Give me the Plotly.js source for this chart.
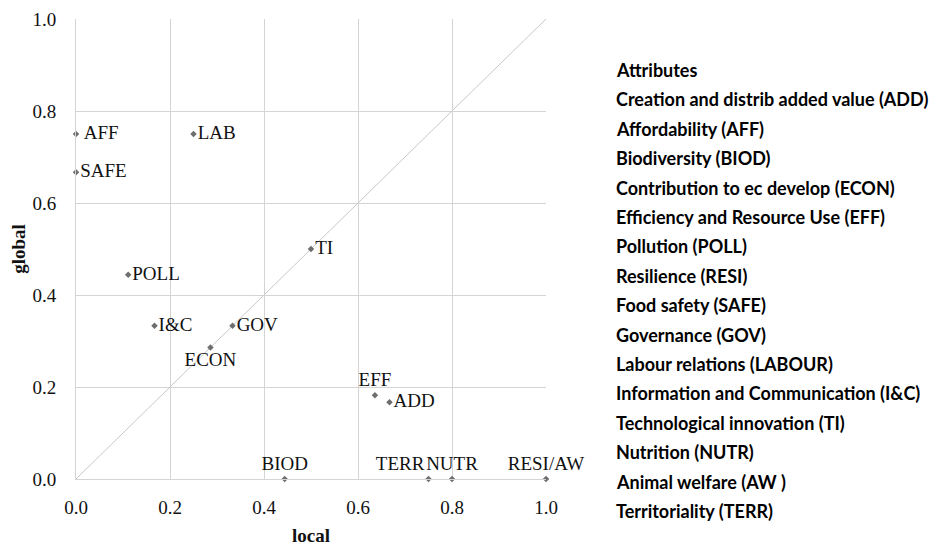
<!DOCTYPE html>
<html>
<head>
<meta charset="utf-8">
<script src="https://cdn.plot.ly/plotly-3.0.1.min.js"></script>
<style>html,body{margin:0;padding:0;background:#fff;}#chart{width:938px;height:546px;}</style>
</head>
<body>
<div id="chart"></div>
<script>
const labels = ["AFF", "SAFE", "LAB", "POLL", "I&C", "GOV", "ECON", "TI", "EFF", "ADD", "BIOD", "TERR", "NUTR", "RESI/AW"];
const localVals = [0.0, 0.0, 0.25, 0.111, 0.167, 0.333, 0.286, 0.5, 0.636, 0.667, 0.444, 0.75, 0.8, 1.0];
const globalVals = [0.75, 0.667, 0.75, 0.444, 0.333, 0.333, 0.286, 0.5, 0.182, 0.167, 0.0, 0.0, 0.0, 0.0];
const labelPos = ["middle right", "middle right", "middle right", "middle right", "middle right", "middle right", "bottom center", "middle right", "top center", "middle right", "top center", "top left", "top center", "top center"];
const tickVals = [0, 0.2, 0.4, 0.6, 0.8, 1.0];
const tickText = ["0.0", "0.2", "0.4", "0.6", "0.8", "1.0"];
const legendTitle = "Attributes";
const legendItems = [
  "Creation and distrib added value (ADD)",
  "Affordability (AFF)",
  "Biodiversity (BIOD)",
  "Contribution to ec develop (ECON)",
  "Efficiency and Resource Use (EFF)",
  "Pollution (POLL)",
  "Resilience (RESI)",
  "Food safety (SAFE)",
  "Governance (GOV)",
  "Labour relations (LABOUR)",
  "Information and Communication (I&C)",
  "Technological innovation (TI)",
  "Nutrition (NUTR)",
  "Animal welfare (AW )",
  "Territoriality (TERR)"
];

const serif = "Liberation Serif, Times New Roman, serif";
const sans = "Lato, Liberation Sans, sans-serif";

const traces = [
  {
    x: [0, 1], y: [0, 1], mode: "lines", type: "scatter",
    line: {color: "#c8c8c8", width: 1}, hoverinfo: "skip", showlegend: false
  },
  {
    x: localVals, y: globalVals, text: labels.map(l => l === "AFF" ? " " + l : l),
    mode: "markers+text", type: "scatter",
    textposition: labelPos, cliponaxis: false,
    textfont: {family: serif, size: 19, color: "#111"},
    marker: {symbol: "diamond", size: 5, color: "#6e6e6e"},
    showlegend: false
  }
];

const plotL = 76, plotR = 546, plotT = 19, plotB = 479;
const pw = plotR - plotL, ph = plotB - plotT;
const legX = (614 - plotL) / pw;
const legY0 = 70, legStep = 29.4;
const allLeg = [legendTitle].concat(legendItems);
const annotations = allLeg.map((t, i) => ({
  text: t, xref: "paper", yref: "paper",
  x: legX, y: (plotB - (legY0 + i * legStep)) / ph,
  xanchor: "left", yanchor: "middle", showarrow: false,
  font: {family: sans, size: 18, color: "#000", weight: "bold"}
}));

const layout = {
  width: 938, height: 546,
  margin: {l: plotL, r: 938 - plotR, t: plotT, b: 546 - plotB},
  paper_bgcolor: "#fff", plot_bgcolor: "#fff",
  showlegend: false,
  xaxis: {
    range: [0, 1], tickvals: tickVals, ticktext: tickText,
    showgrid: true, gridcolor: "#d4d4d4", gridwidth: 1,
    zeroline: false, showline: true, linecolor: "#d4d4d4", linewidth: 1,
    ticks: "", ticklabelstandoff: 11,
    tickfont: {family: serif, size: 19, color: "#111"},
    title: {text: "<b>local</b>", font: {family: serif, size: 19, color: "#111"}, standoff: 14}
  },
  yaxis: {
    range: [0, 1], tickvals: tickVals, ticktext: tickText,
    showgrid: true, gridcolor: "#d4d4d4", gridwidth: 1,
    zeroline: false, showline: true, linecolor: "#d4d4d4", linewidth: 1,
    ticks: "", ticklabelstandoff: 15,
    tickfont: {family: serif, size: 19, color: "#111"},
    title: {text: "<b>global</b>", font: {family: serif, size: 19, color: "#111"}, standoff: 1}
  },
  annotations: annotations
};

Plotly.newPlot("chart", traces, layout, {displayModeBar: false, staticPlot: true});
</script>
</body>
</html>
